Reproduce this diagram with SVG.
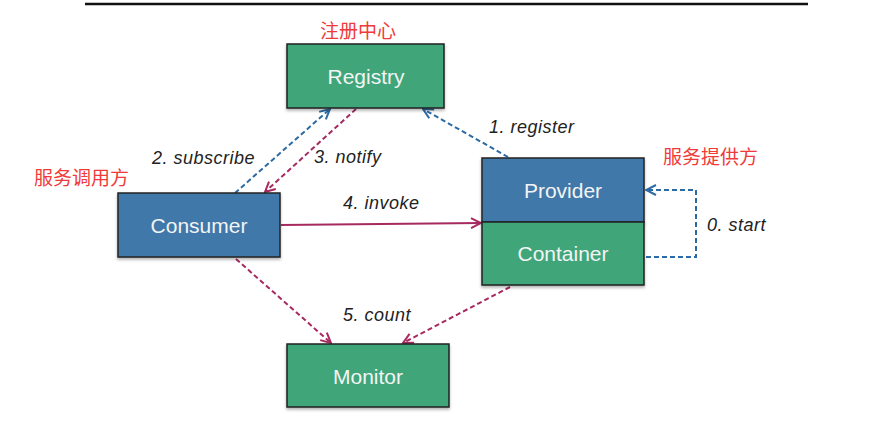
<svg xmlns="http://www.w3.org/2000/svg" width="880" height="432" viewBox="0 0 880 432">
<style>
.node{stroke:#222;stroke-width:1.5}
.g{fill:#3fa67a}
.b{fill:#4178a9}
.nt{font-family:"Liberation Sans",Arial,sans-serif;font-size:21px;fill:#f4f4f4;text-anchor:middle}
.lbl{font-family:"Liberation Sans",Arial,sans-serif;font-size:18px;font-style:italic;fill:#222;letter-spacing:0.5px}
.cn{font-family:"Noto Sans CJK SC",sans-serif;font-size:19px;fill:#f03a3a}
.blue{stroke:#2b6aa3;stroke-width:2;fill:none;stroke-dasharray:5,3}
.pur{stroke:#a62a60;stroke-width:2;fill:none;stroke-dasharray:5,3}
.pursolid{stroke:#a62a60;stroke-width:2;fill:none}
</style>
<defs>
<marker id="ab" viewBox="0 0 12 12" refX="11" refY="6" markerWidth="12" markerHeight="12" markerUnits="userSpaceOnUse" orient="auto">
<path d="M1,1 L11,6 L1,11" fill="none" stroke="#2b6aa3" stroke-width="2"/>
</marker>
<marker id="ap" viewBox="0 0 12 12" refX="11" refY="6" markerWidth="12" markerHeight="12" markerUnits="userSpaceOnUse" orient="auto">
<path d="M1,1 L11,6 L1,11" fill="none" stroke="#a62a60" stroke-width="2"/>
</marker>
<filter id="sh" x="-10%" y="-10%" width="120%" height="130%">
<feDropShadow dx="0" dy="2" stdDeviation="1.5" flood-color="#000" flood-opacity="0.3"/>
</filter>
</defs>
<rect width="880" height="432" fill="#fff"/>
<line x1="85" y1="4" x2="808" y2="4" stroke="#111" stroke-width="2.5"/>

<g id="connectors">
<line class="blue" x1="235" y1="193" x2="330" y2="109" marker-end="url(#ab)"/>
<line class="pur" x1="356" y1="109" x2="265" y2="192" marker-end="url(#ap)"/>
<line class="blue" x1="508" y1="157" x2="423" y2="109" marker-end="url(#ab)"/>
<line class="pursolid" x1="281" y1="225" x2="481" y2="223" marker-end="url(#ap)"/>
<line class="pur" x1="236" y1="259" x2="331" y2="343" marker-end="url(#ap)"/>
<line class="pur" x1="510" y1="287" x2="403" y2="343" marker-end="url(#ap)"/>
<polyline class="blue" points="646,257 696,257 696,190 646,190" marker-end="url(#ab)"/>
<text class="lbl" x="489" y="133">1. register</text>
<text class="lbl" x="152" y="164">2. subscribe</text>
<text class="lbl" x="314" y="163">3. notify</text>
<text class="lbl" x="343" y="209">4. invoke</text>
<text class="lbl" x="343" y="321">5. count</text>
<text class="lbl" x="707" y="231">0. start</text>
</g>

<g id="registry">
<rect class="node g" x="287" y="44" width="157" height="64" filter="url(#sh)"/>
<text class="nt" x="366" y="84">Registry</text>
<text class="cn" x="320" y="38">注册中心</text>
</g>
<g id="consumer">
<rect class="node b" x="118" y="193" width="162" height="64" filter="url(#sh)"/>
<text class="nt" x="199" y="233">Consumer</text>
<text class="cn" x="34" y="185">服务调用方</text>
</g>
<g id="provider">
<rect class="node b" x="482" y="158" width="162" height="64" filter="url(#sh)"/>
<text class="nt" x="563" y="198">Provider</text>
<text class="cn" x="663" y="164">服务提供方</text>
</g>
<g id="container">
<rect class="node g" x="482" y="222" width="162" height="63" filter="url(#sh)"/>
<text class="nt" x="563" y="261">Container</text>
</g>
<g id="monitor">
<rect class="node g" x="287" y="344" width="162" height="63" filter="url(#sh)"/>
<text class="nt" x="368" y="384">Monitor</text>
</g>
</svg>
